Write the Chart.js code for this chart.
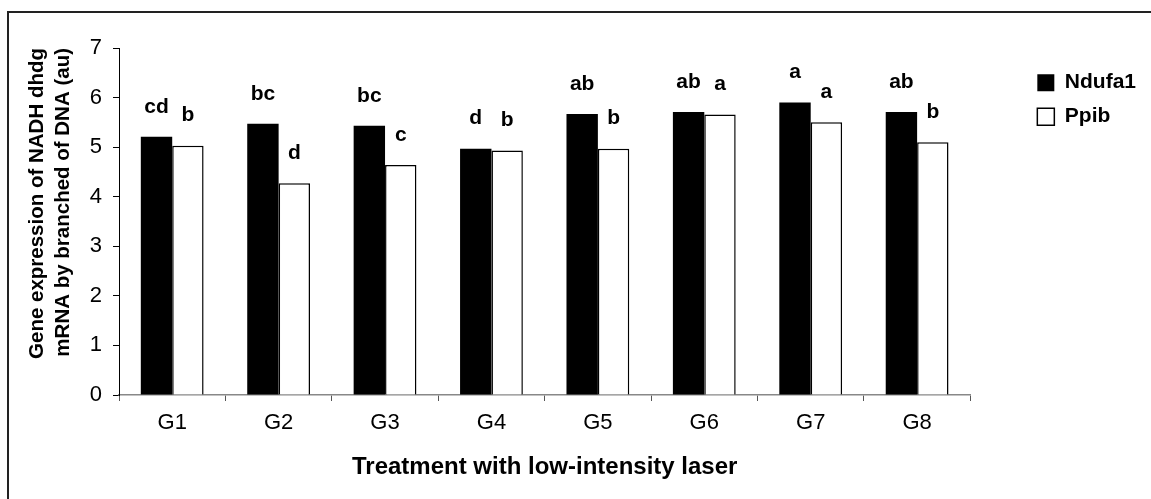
<!DOCTYPE html>
<html>
<head>
<meta charset="utf-8">
<script src="https://cdn.jsdelivr.net/npm/chart.js@4.4.1/dist/chart.umd.min.js"></script>
<style>
  html, body { margin: 0; padding: 0; background: #fff; }
  #frame {
    position: absolute; left: 7px; top: 11px;
    width: 1142px; height: 486px;
    border-left: 2px solid #222; border-top: 2px solid #222;
    overflow: hidden;
  }
</style>
</head>
<body>
<div id="frame"><canvas id="geneChart"></canvas></div>
<script>
// groups and measured values (au)
const groups = ['G1', 'G2', 'G3', 'G4', 'G5', 'G6', 'G7', 'G8']
const ndufa1 = [5.21, 5.47, 5.43, 4.97, 5.67, 5.71, 5.90, 5.71]
const ppib = [5.03, 4.27, 4.64, 4.93, 4.97, 5.66, 5.50, 5.10]
// significance letters over each bar
const ndufa1Letters = ['cd', 'bc', 'bc', 'd', 'ab', 'ab', 'a', 'ab']
const ppibLetters = ['b', 'd', 'c', 'b', 'b', 'a', 'a', 'b']
const yTicks = [0, 1, 2, 3, 4, 5, 6, 7]

const FONT = '"Liberation Sans", Arial, sans-serif'

// draws the letter above every bar
const letterPlugin = {
  id: 'letters',
  afterDatasetsDraw(chart) {
    const ctx = chart.ctx
    const sets = [ndufa1Letters, ppibLetters]
    ctx.save()
    ctx.font = 'bold 21px ' + FONT
    ctx.fillStyle = '#000'
    ctx.textAlign = 'center'
    ctx.textBaseline = 'middle'
    sets.forEach((letters, d) => {
      chart.getDatasetMeta(d).data.forEach((bar, i) => {
        ctx.fillText(letters[i], bar.x, bar.y - 30)
      })
    })
    ctx.restore()
  }
}

const ctx = document.getElementById('geneChart').getContext('2d')
const data = {
  labels: groups,
  datasets: [{
    label: 'Ndufa1',
    data: ndufa1,
    backgroundColor: '#000',
    borderColor: '#000',
    borderWidth: 0,
  }, {
    label: 'Ppib',
    data: ppib,
    backgroundColor: '#fff',
    borderColor: '#000',
    borderWidth: 1.5,
  }],
}

const options = {
  responsive: true,
  maintainAspectRatio: false,
  animation: false,
  categoryPercentage: 0.59,
  barPercentage: 1.0,
  layout: { padding: { top: 35, left: 0, right: 5, bottom: 0 } },
  plugins: {
    legend: {
      position: 'right',
      align: 'start',
      title: { display: true, text: ' ', font: { size: 1 }, padding: { top: 10, bottom: 0 } },
      labels: {
        boxWidth: 17,
        boxHeight: 17,
        padding: 13,
        color: '#000',
        font: { family: FONT, size: 21, weight: 'bold' },
      },
    },
    tooltip: { enabled: false },
  },
  scales: {
    x: {
      grid: { display: true, drawOnChartArea: false, offset: true, tickLength: 6, color: '#555' },
      border: { display: true, color: '#888', width: 1.5 },
      ticks: { color: '#000', padding: 9, font: { family: FONT, size: 22 } },
      title: {
        display: true,
        text: 'Treatment with low-intensity laser',
        color: '#000',
        font: { family: FONT, size: 24, weight: 'bold' },
        padding: { top: 0, bottom: 17 },
      },
      afterFit(scale) { scale.height = 104 },
    },
    y: {
      min: 0,
      max: 7,
      grid: { display: true, drawOnChartArea: false, tickLength: 6, color: '#000' },
      border: { display: true, color: '#000', width: 1 },
      afterBuildTicks(scale) { scale.ticks = yTicks.map(v => ({ value: v })) },
      ticks: { color: '#000', padding: 11, font: { family: FONT, size: 22 } },
      title: {
        display: true,
        align: 'end',
        text: ['Gene expression of NADH dhdg', 'mRNA by branched of DNA (au)'],
        color: '#000',
        font: { family: FONT, size: 20.5, weight: 'bold', lineHeight: 1.27 },
        padding: { top: 15, bottom: 0 },
      },
      afterFit(scale) { scale.width = 110 },
    },
    // empty spacer between plot and legend
    gap: {
      type: 'linear',
      position: 'right',
      display: true,
      grid: { display: false },
      border: { display: false },
      ticks: { display: false },
      afterFit(scale) { scale.width = 54 },
    },
  },
}

new Chart(ctx, {
  type: 'bar',
  data: data,
  options: options,
  plugins: [letterPlugin],
})
</script>
</body>
</html>
